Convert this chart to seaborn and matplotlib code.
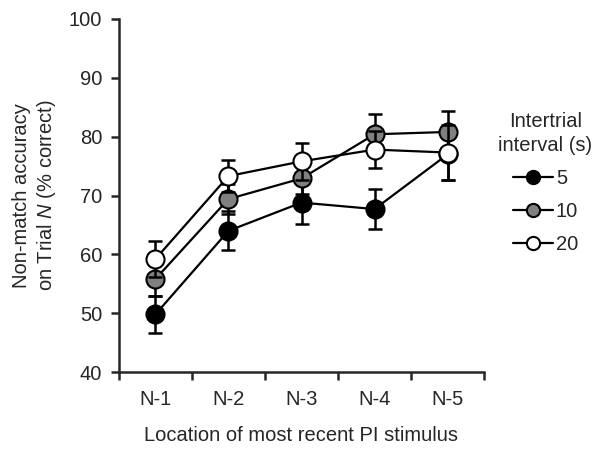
import numpy as np
import pandas as pd
import matplotlib
matplotlib.use('Agg')
import matplotlib.pyplot as plt
import seaborn as sns

locations = ['N-1', 'N-2', 'N-3', 'N-4', 'N-5']
itis = ['5', '10', '20']
acc_5 = [49.8, 64.0, 68.8, 67.7, 77.0]
err_5 = [3.1, 3.3, 3.6, 3.4, 4.4]
acc_10 = [55.8, 69.4, 72.9, 80.4, 80.8]
err_10 = [2.8, 2.6, 2.6, 3.4, 3.6]
acc_20 = [59.2, 73.3, 75.8, 77.8, 77.3]
err_20 = [3.1, 2.7, 3.2, 3.2, 4.6]
face_colors = ['black', 'grey', 'white']

sns.set_style('ticks')
plt.rcParams['font.family'] = ['Liberation Sans', 'DejaVu Sans']
plt.rcParams['mathtext.fontset'] = 'custom'
plt.rcParams['mathtext.it'] = 'Liberation Sans:italic'
plt.rcParams['mathtext.rm'] = 'Liberation Sans'

df = pd.DataFrame({
    'pos': list(range(5)) * 3,
    'acc': acc_5 + acc_10 + acc_20,
    'err': err_5 + err_10 + err_20,
    'iti': np.repeat(itis, 5),
})

fs = 14.5
fig = plt.figure(figsize=(6, 4.5), dpi=100)
ax = fig.add_axes([0.198, 0.173, 0.609, 0.785])

handles = []
for i, (iti, fc) in enumerate(zip(itis, face_colors)):
    sub = df[df['iti'] == iti]
    ax.errorbar(sub['pos'], sub['acc'], yerr=sub['err'], fmt='none',
                ecolor='black', elinewidth=1.8, capsize=5, capthick=1.8, zorder=2 + i)
    sns.lineplot(data=sub, x='pos', y='acc', color='black', linewidth=1.6,
                 marker='o', markersize=13, markerfacecolor=fc,
                 markeredgecolor='black', markeredgewidth=1.5,
                 ax=ax, zorder=3 + i, legend=False)
    h, = ax.plot([], [], color='black', linewidth=1.6, marker='o', markersize=9.5,
                 markerfacecolor=fc, markeredgecolor='black', markeredgewidth=1.5)
    handles.append(h)

ax.set_xlim(-0.5, 4.5)
ax.set_ylim(40, 100)
ax.set_yticks(range(40, 101, 10))
ax.set_xticks(range(5))
ax.set_xticklabels(locations)
ax.set_xticks(np.arange(-0.5, 4.6, 1), minor=True)
ax.tick_params(axis='x', which='major', length=0, pad=13, labelsize=fs)
ax.tick_params(axis='x', which='minor', length=6, width=1.8, direction='out')
ax.tick_params(axis='y', length=6, width=1.8, direction='out', labelsize=fs, pad=6)
sns.despine(ax=ax)
for s in ['left', 'bottom']:
    ax.spines[s].set_linewidth(1.8)

ax.set_xlabel('Location of most recent PI stimulus', fontsize=fs, labelpad=12)
ax.set_ylabel('Non-match accuracy\non Trial $\\it{N}$ (% correct)', fontsize=fs, labelpad=8)

leg = ax.legend(handles, itis, title='Intertrial\ninterval (s)', loc='center left',
                bbox_to_anchor=(1.0, 0.535), frameon=False, fontsize=fs,
                title_fontsize=fs, handlelength=2.0, handletextpad=0.15,
                labelspacing=0.7, borderpad=0.2)
leg.get_title().set_multialignment('center')
leg.get_title().set_linespacing(1.35)

fig.savefig('out.png', dpi=100)
